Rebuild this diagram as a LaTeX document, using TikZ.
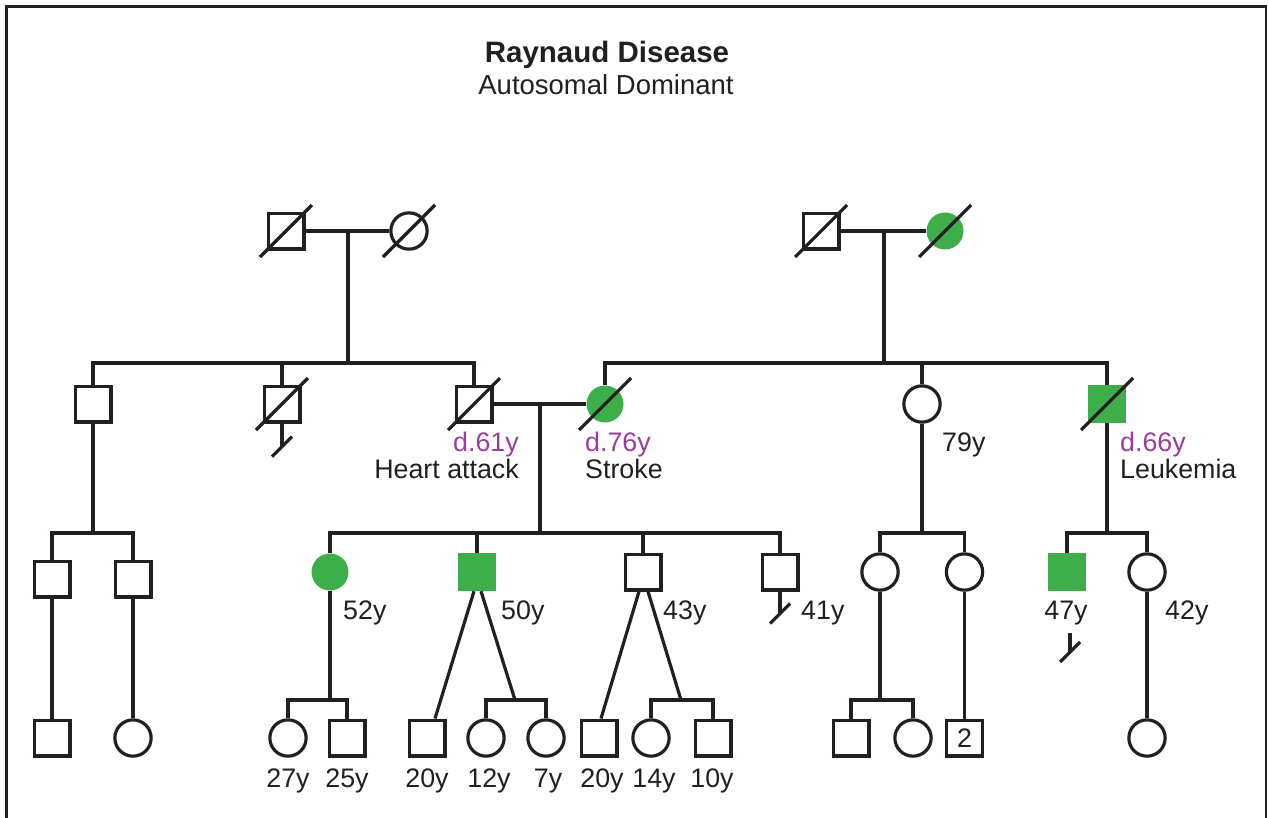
\documentclass[tikz,border=0pt]{standalone}
\usepackage{fontspec}
\setmainfont{Liberation Sans}
\usetikzlibrary{calc}
\definecolor{ink}{HTML}{231F20}
\definecolor{pgreen}{HTML}{3DAE49}
\definecolor{ppurple}{HTML}{9B3D9E}
\newcommand\lblfont{\fontsize{26.8}{30}\selectfont}
\newcommand\deadmark[1]{\draw[ln] ($(#1)+(-26,26)$) -- ($(#1)+(26,-26)$);}
\newcommand\noissue[2]{\draw[ln] (#1.south) -- ++(0,#2) coordinate (#1ni);
  \draw[ln] ($(#1ni)+(-10,10)$) -- ($(#1ni)+(10,-10)$);}
\begin{document}
\begin{tikzpicture}[x=1pt,y=-1pt,
  ln/.style={line width=3.2pt, draw=ink},
  sq/.style={rectangle, draw=ink, line width=3.2pt, minimum size=35.8pt, inner sep=0pt, fill=white, font=\lblfont, text=ink},
  ci/.style={circle, draw=ink, line width=3.2pt, minimum size=36.3pt, inner sep=0pt, fill=white},
  asq/.style={rectangle, fill=pgreen, minimum size=38pt, inner sep=0pt},
  aci/.style={circle, fill=pgreen, minimum size=37pt, inner sep=0pt},
  lbl/.style={font=\lblfont, text=ink, inner sep=0pt},
  dlbl/.style={lbl, text=ppurple}]
\useasboundingbox (0,0) rectangle (1268,817);
\fill[white] (0,0) rectangle (1268,817);
\draw[line width=2.5pt, draw=ink] (6.5,820) -- (6.5,6.5) -- (1266,6.5) -- (1266,820);
% title
\node[font=\bfseries\fontsize{29.5}{33}\selectfont, text=ink, inner sep=0pt, anchor=base] (t1) at (607,62) {Raynaud Disease};
\node[font=\fontsize{27.5}{30}\selectfont, text=ink, inner sep=0pt, anchor=base] (t2) at (606,94) {Autosomal Dominant};
% generation I
\node[sq] (A1) at (286,231) {};
\node[ci] (A2) at (409,231) {};
\node[sq] (B1) at (821,231) {};
\node[aci] (B2) at (945,231) {};
\coordinate (mA) at (348,231); \coordinate (sA) at (348,363);
\coordinate (mB) at (884,231); \coordinate (sB) at (884,363);
\draw[ln] (A1) -- (A2); \draw[ln] (mA) -- (sA);
\draw[ln] (B1) -- (B2); \draw[ln] (mB) -- (sB);
% generation II
\node[sq] (C1) at (93,404) {};
\node[sq] (C2) at (282,404) {};
\node[sq] (C3) at (474,404) {};
\node[aci] (C4) at (605,404) {};
\node[ci] (C5) at (922,404) {};
\node[asq] (C6) at (1107,404) {};
\draw[ln] (C1) |- (sA) -| (C3);
\draw[ln] (C2) -- (C2 |- sA);
\draw[ln] (C4) |- (sB) -| (C6);
\draw[ln] (C5) -- (C5 |- sB);
\draw[ln] (C3) -- (C4);
\coordinate (mC) at (540,404); \coordinate (sC) at (540,533);
\draw[ln] (mC) -- (sC);
% generation III
\node[sq] (D1) at (52,579) {};
\node[sq] (D2) at (133,579) {};
\coordinate (sD) at (93,533);
\draw[ln] (C1) -- (sD); \draw[ln] (D1) |- (sD) -| (D2);
\node[aci] (D3) at (330,572) {};
\node[asq] (D4) at (477,572) {};
\node[sq] (D5) at (643,572) {};
\node[sq] (D6) at (780,572) {};
\draw[ln] (D3) |- (sC) -| (D6);
\draw[ln] (D4) -- (D4 |- sC);
\draw[ln] (D5) -- (D5 |- sC);
\node[ci] (D7) at (880,572) {};
\node[ci] (D8) at (964.5,572) {};
\coordinate (sE) at (922,533);
\draw[ln] (C5) -- (sE); \draw[ln] (D7) |- (sE) -| (D8);
\node[asq] (D9) at (1067,572) {};
\node[ci] (D10) at (1147,572) {};
\coordinate (sF) at (1107,533);
\draw[ln] (C6) -- (sF); \draw[ln] (D9) |- (sF) -| (D10);
% generation IV
\node[sq] (E1) at (52,738) {};
\node[ci] (E2) at (133,738) {};
\draw[ln] (D1) -- (E1); \draw[ln] (D2) -- (E2);
\node[ci] (E3) at (288,738) {};
\node[sq] (E4) at (347,738) {};
\coordinate (sG) at (330,700);
\draw[ln] (D3) -- (sG); \draw[ln] (E3) |- (sG) -| (E4);
\node[sq] (E5) at (427,738) {};
\node[ci] (E6) at (486,738) {};
\node[ci] (E7) at (546,738) {};
\coordinate (sH) at (515,700);
\draw[ln] ($(D4.south)+(-3,0)$) -- ($(E5.north)+(8,0)$);
\draw[ln] ($(D4.south)+(4,0)$) -- (sH);
\draw[ln] (E6) |- (sH) -| (E7);
\node[sq] (E8) at (599,738) {};
\node[ci] (E9) at (651,738) {};
\node[sq] (E10) at (713,738) {};
\coordinate (sI) at (681,700);
\draw[ln] ($(D5.south)+(-4,0)$) -- ($(E8.north)+(2,0)$);
\draw[ln] ($(D5.south)+(5,0)$) -- (sI);
\draw[ln] (E9) |- (sI) -| (E10);
\node[sq] (E11) at (851,738) {};
\node[ci] (E12) at (913,738) {};
\coordinate (sJ) at (880,700);
\draw[ln] (D7) -- (sJ); \draw[ln] (E11) |- (sJ) -| (E12);
\node[sq] (E13) at (964.5,738) {2};
\draw[ln] (D8) -- (E13);
\node[ci] (E14) at (1147,738) {};
\draw[ln] (D10) -- (E14);
% deceased marks
\deadmark{A1} \deadmark{A2} \deadmark{B1} \deadmark{B2}
\deadmark{C2} \deadmark{C3} \deadmark{C4} \deadmark{C6}
% no issue marks
\noissue{C2}{23}
\noissue{D6}{22}
\coordinate (n47) at (1070,633);
\draw[ln] (n47) -- ++(0,19) coordinate (n47b);
\draw[ln] ($(n47b)+(-10,10)$) -- ($(n47b)+(10,-10)$);
% labels
\node[dlbl, anchor=base east] (l1) at (519,451) {d.61y};
\node[lbl, anchor=base east] (l2) at (519,478) {Heart attack};
\node[dlbl, anchor=base west] (l3) at (585,451) {d.76y};
\node[lbl, anchor=base west] (l4) at (585,478) {Stroke};
\node[lbl, anchor=base west] (l5) at (942,451) {79y};
\node[dlbl, anchor=base west] (l6) at (1120,451) {d.66y};
\node[lbl, anchor=base west] (l7) at (1120,478) {Leukemia};
\node[lbl, anchor=base west] (l8) at (343,619) {52y};
\node[lbl, anchor=base west] (l9) at (501,619) {50y};
\node[lbl, anchor=base west] (l10) at (663,619) {43y};
\node[lbl, anchor=base west] (l11) at (801,619) {41y};
\node[lbl, anchor=base] (l12) at (1066,619) {47y};
\node[lbl, anchor=base west] (l13) at (1165,619) {42y};
\node[lbl, anchor=base] (g1) at (288,787) {27y};
\node[lbl, anchor=base] (g2) at (347,787) {25y};
\node[lbl, anchor=base] (g3) at (427,787) {20y};
\node[lbl, anchor=base] (g4) at (489,787) {12y};
\node[lbl, anchor=base] (g5) at (548,787) {7y};
\node[lbl, anchor=base] (g6) at (602,787) {20y};
\node[lbl, anchor=base] (g7) at (654,787) {14y};
\node[lbl, anchor=base] (g8) at (712,787) {10y};
\end{tikzpicture}
\end{document}
